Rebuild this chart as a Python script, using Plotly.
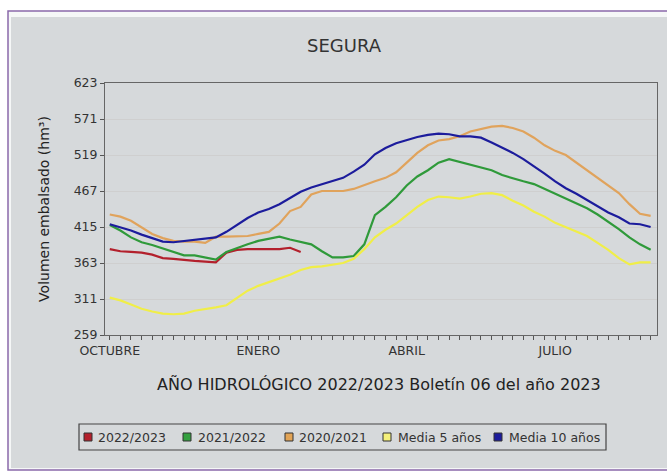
import plotly.graph_objects as go

# ---- data ----
weeks = list(range(52))
month_labels = {0: "OCTUBRE", 14: "ENERO", 28: "ABRIL", 42: "JULIO"}

s_2022_2023 = [383, 380, 379, 378, 375, 370, 369, 367, 366, 365, 364, 378, 382, 383, 383, 383, 383, 385, 379]

s_2021_2022 = [418, 410, 400, 393, 389, 384, 378, 374, 374, 371, 368, 379, 385, 390, 395, 398, 401, 397, 393, 390,
               380, 371, 371, 373, 390, 432, 444, 458, 475, 488, 497, 508, 513, 509, 505, 502, 497, 490, 485, 481,
               477, 470, 463, 456, 450, 442, 433, 423, 412, 400, 390, 382]

s_2020_2021 = [433, 430, 424, 415, 405, 399, 395, 394, 394, 392, 401, 401, 401, 402, 405, 408, 420, 438, 444, 462,
               467, 467, 467, 470, 476, 481, 486, 494, 508, 522, 533, 540, 542, 546, 553, 557, 560, 561, 558, 553,
               544, 533, 525, 519, 508, 497, 486, 474, 464, 448, 434, 431]

media5 = [313, 309, 303, 297, 293, 290, 289, 290, 294, 296, 299, 302, 313, 323, 330, 335, 341, 346, 353, 357,
          358, 360, 363, 369, 383, 400, 411, 420, 432, 444, 454, 459, 458, 456, 459, 463, 464, 461, 453, 446,
          437, 430, 421, 415, 409, 402, 392, 382, 370, 361, 364, 364]

media10 = [419, 415, 410, 404, 399, 394, 393, 395, 396, 399, 400, 408, 418, 428, 436, 441, 448, 457, 466, 472,
           477, 481, 486, 495, 505, 520, 529, 536, 541, 545, 548, 550, 549, 546, 546, 544, 537, 530, 522, 513,
           503, 492, 481, 471, 463, 454, 445, 436, 429, 420, 419, 415]

y_ticks = [259, 311, 363, 415, 467, 519, 571, 623]

series_names = ["2022/2023", "2021/2022", "2020/2021", "Media 5 años", "Media 10 años"]
series_values = [s_2022_2023, s_2021_2022, s_2020_2021, media5, media10]
line_colors = ["#b3202c", "#2f9a3a", "#e0a35c", "#f0ee48", "#1c1c9c"]
swatch_colors = ["#b3202c", "#33a03f", "#e2a456", "#f4f07a", "#1c1c9c"]

FONT = "DejaVu Sans"

W, H = 667, 472
L, R, T, B = 105, 10, 83, 137
pw, ph = W - L - R, H - T - B


def px(xp):
    return (xp - L) / pw


def py(yp):
    return (H - B - yp) / ph


fig = go.Figure()

for name, vals, col in zip(series_names, series_values, line_colors):
    fig.add_trace(go.Scatter(
        x=weeks[:len(vals)], y=vals, mode="lines", name=name,
        line=dict(color=col, width=2.2), showlegend=False, hoverinfo="skip"))

# manual legend (layout positions in pixels)
legend_sq_left = [84, 183, 285, 383, 494]
legend_text_left = [96, 196, 297, 396, 507]
legend_y = 437

shapes = [
    dict(type="rect", xref="paper", yref="paper", layer="below",
         x0=px(8), x1=px(672), y0=py(470), y1=py(11),
         line=dict(color="#8a6aaa", width=1.5), fillcolor="#f5f7f7"),
    dict(type="rect", xref="paper", yref="paper", layer="below",
         x0=px(11), x1=px(672), y0=py(468), y1=py(17),
         line=dict(width=0), fillcolor="#d6d9db"),
    dict(type="rect", xref="paper", yref="paper", layer="above",
         x0=px(79), x1=px(606), y0=py(450), y1=py(424),
         line=dict(color="#444444", width=1.2), fillcolor="rgba(0,0,0,0)"),
]
annotations = [
    dict(text="AÑO HIDROLÓGICO 2022/2023 Boletín 06 del año 2023",
         xref="paper", yref="paper", x=px(379), y=py(384),
         xanchor="center", yanchor="middle", showarrow=False,
         font=dict(family=FONT, size=16, color="#222222")),
]
for name, col, sx, tx in zip(series_names, swatch_colors, legend_sq_left, legend_text_left):
    shapes.append(dict(type="rect", xref="paper", yref="paper", layer="above",
                       x0=px(sx), x1=px(sx + 8), y0=py(legend_y + 4), y1=py(legend_y - 4),
                       line=dict(color="#333333", width=1), fillcolor=col))
    annotations.append(dict(text=name, xref="paper", yref="paper", x=px(tx), y=py(legend_y),
                            xanchor="left", yanchor="middle", showarrow=False,
                            font=dict(family=FONT, size=12.5, color="#333333")))

fig.update_layout(
    width=W, height=H,
    margin=dict(l=L, r=R, t=T, b=B, autoexpand=False),
    paper_bgcolor="white",
    plot_bgcolor="white",
    showlegend=False,
    font=dict(family=FONT, color="#333333", size=12),
    title=dict(text="SEGURA", x=344 / W, xanchor="center", y=1 - 46 / H, yanchor="middle",
               xref="container", yref="container", font=dict(family=FONT, size=18, color="#333333")),
    xaxis=dict(
        range=[-0.45, 51.6],
        tickmode="array",
        tickvals=weeks,
        ticktext=[month_labels.get(w, "") for w in weeks],
        ticks="outside", ticklen=4, tickcolor="#555555", tickwidth=1,
        showgrid=False, zeroline=False,
        showline=True, mirror=True, linecolor="#666666", linewidth=1,
        tickfont=dict(family=FONT, size=12.5, color="#333333"),
        automargin=False,
    ),
    yaxis=dict(
        range=[259, 623],
        tickmode="array",
        tickvals=y_ticks,
        ticks="outside", ticklen=4, tickcolor="#555555",
        showgrid=True, gridcolor="#cfcfcf", gridwidth=1,
        zeroline=False,
        showline=True, mirror=True, linecolor="#666666", linewidth=1,
        tickfont=dict(family=FONT, size=12.5, color="#333333"),
        title=dict(text="Volumen embalsado (hm³)", standoff=20,
                   font=dict(family=FONT, size=14, color="#222222")),
        automargin=False,
    ),
    shapes=shapes,
    annotations=annotations,
)

fig.write_html("out.html", config={"displayModeBar": False},
               post_script="document.body.style.margin='0px';")
